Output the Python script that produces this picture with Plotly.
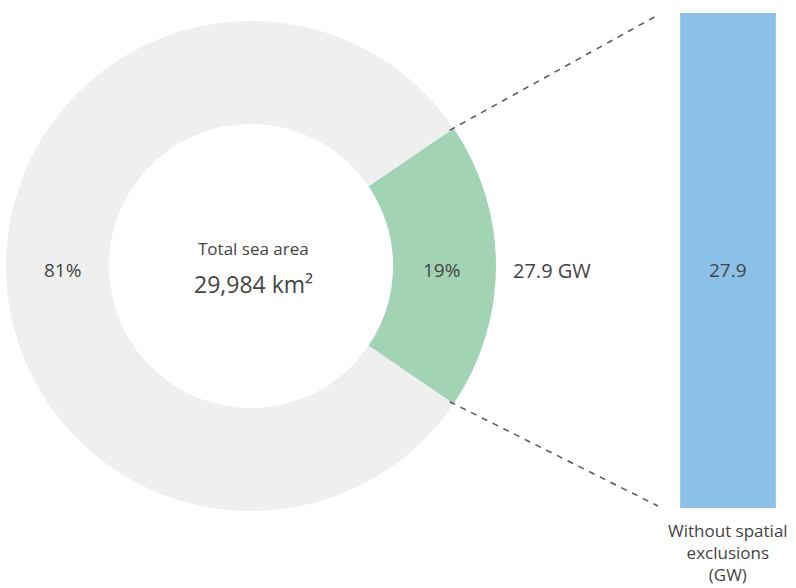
import math
import plotly.graph_objects as go

# ---- data ----
slice_labels = ["Available area", "Other"]
slice_values = [19, 81]
slice_colors = ["#a3d3b5", "#efefef"]
total_area_label = "Total sea area"
total_area_value = "29,984 km²"
bar_categories = ["Without spatial exclusions (GW)"]
bar_category_text = ["Without spatial<br>exclusions<br>(GW)"]
bar_values = [27.9]
capacity_unit = "GW"

W, H = 796, 588
FONT = "'Open Sans', sans-serif"
TXT = "#444444"

def px(x):
    return x / W

def py(y):
    return 1 - y / H

# donut geometry (pixels)
cx, cy, R = 251, 266, 245
hole = 0.58
green_frac = slice_values[0] / sum(slice_values)
half_ang = green_frac * 360 / 2
rotation = 90 - half_ang

fig = go.Figure()
fig.add_trace(go.Pie(
    labels=slice_labels, values=slice_values, sort=False, direction="clockwise",
    rotation=rotation, hole=hole,
    marker=dict(colors=slice_colors, line=dict(width=0)),
    textinfo="none", hoverinfo="label+percent", showlegend=False,
    domain=dict(x=[px(cx - R), px(cx + R)], y=[py(cy + R), py(cy - R)]),
))

# bar
bar_top_px, bar_bot_px = 13, 508
fig.add_trace(go.Bar(
    x=bar_categories, y=bar_values, marker=dict(color="#8bc1e8", line=dict(width=0)),
    showlegend=False, xaxis="x", yaxis="y",
))
fig.update_layout(
    width=W, height=H, margin=dict(l=0, r=0, t=0, b=0),
    paper_bgcolor="white", plot_bgcolor="white",
    bargap=0.175,
    xaxis=dict(domain=[px(670), px(790)], visible=False),
    yaxis=dict(domain=[py(bar_bot_px), py(bar_top_px)], range=[0, bar_values[0]],
               visible=False),
)

def note(x, y, text, size, xref="paper", yanchor="middle"):
    fig.add_annotation(x=x, y=y, xref=xref, yref="paper", text=text,
                       xanchor="center", yanchor=yanchor, showarrow=False,
                       font=dict(family=FONT, size=size, color=TXT))

pct = [round(v / sum(slice_values) * 100) for v in slice_values]
note(px(62), py(270), f"{pct[1]}%", 19)
note(px(441), py(270), f"{pct[0]}%", 19)
note(px(552), py(270), f"{bar_values[0]:g} {capacity_unit}", 20)
note(bar_categories[0], py(270), f"{bar_values[0]:g}", 19, xref="x")
note(bar_categories[0], py(517), bar_category_text[0], 17, xref="x", yanchor="top")
note(px(253), py(248), total_area_label, 17)
note(px(253), py(284), total_area_value, 23)

# dashed connector lines from slice edges to bar
for sign, yb in ((1, bar_top_px), (-1, bar_bot_px)):
    a = math.radians(half_ang) * sign
    x0 = cx + R * math.cos(a)
    y0 = cy - R * math.sin(a)
    fig.add_shape(type="line", xref="paper", yref="paper",
                  x0=px(x0 - 4), y0=py(y0 + 2 * sign), x1=px(658), y1=py(yb + 2 * sign),
                  line=dict(color="#555555", width=1.5, dash="6px,6px"))

fig.write_html("out.html")
